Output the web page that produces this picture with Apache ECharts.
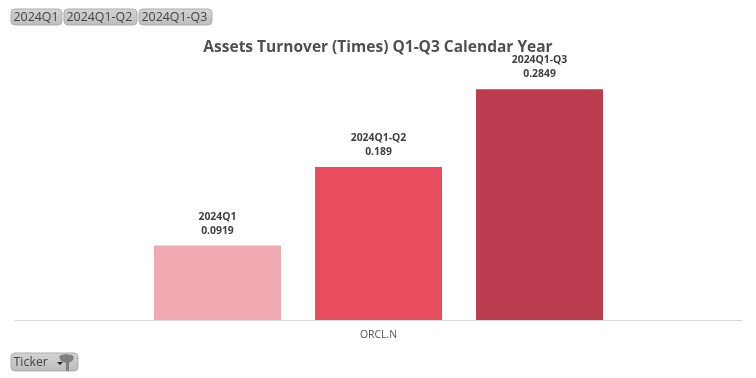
<!DOCTYPE html>
<html>
<head>
<meta charset="utf-8">
<style>
  html, body { margin: 0; padding: 0; background: #fff; }
  #chart { width: 756px; height: 378px; }
</style>
<script src="https://cdn.jsdelivr.net/npm/echarts@6/dist/echarts.min.js"></script>
</head>
<body>
<div id="chart"></div>
<script>
const tickers = ['ORCL.N'];
const periods = ['2024Q1', '2024Q1-Q2', '2024Q1-Q3'];
const turnover = [0.0919, 0.189, 0.2849];
const barColors = ['#f0a9b0', '#e84c5f', '#bc3c4f'];

const chart = echarts.init(document.getElementById('chart'));

const FONT = '"Open Sans", sans-serif';

// grey slicer button, drawn the same for the period row and the Ticker one
const slicerButton = (x, y, w, h, label) => ({
  type: 'group',
  x: x,
  y: y,
  children: [
    {
      type: 'rect',
      shape: { x: 0, y: 0, width: w, height: h, r: 4 },
      style: {
        fill: new echarts.graphic.LinearGradient(0, 0, 0, 1, [
          { offset: 0, color: '#d4d4d4' },
          { offset: 1, color: '#bcbcbc' }
        ]),
        stroke: '#adadad',
        lineWidth: 1
      }
    },
    {
      type: 'text',
      x: 2.5,
      y: h / 2,
      style: {
        text: label,
        font: '12.4px ' + FONT,
        fill: '#444',
        textVerticalAlign: 'middle'
      }
    }
  ]
});

const option = {
  animation: false,
  title: {
    text: 'Assets Turnover (Times) Q1-Q3 Calendar Year',
    left: 'center',
    top: 35,
    textStyle: {
      fontFamily: FONT,
      fontSize: 15.5,
      fontWeight: 'bold',
      color: '#505050'
    }
  },
  grid: { left: 15, right: 14, top: 77, height: 243 },
  xAxis: {
    type: 'category',
    data: tickers,
    axisTick: { show: false },
    axisLine: { lineStyle: { color: '#d9d9d9', width: 1 } },
    axisLabel: { fontFamily: FONT, fontSize: 10.4, color: '#555', margin: 10.5 }
  },
  yAxis: {
    type: 'value',
    min: 0,
    max: 0.3,
    show: false
  },
  series: periods.map((name, i) => ({
    name: name,
    type: 'bar',
    barWidth: 127,
    barGap: '26.8%',
    data: [turnover[i]],
    itemStyle: { color: barColors[i] },
    label: {
      show: true,
      position: 'top',
      distance: 8,
      formatter: p => p.seriesName + '\n' + p.value,
      fontFamily: FONT,
      fontSize: 10.4,
      fontWeight: 'bold',
      lineHeight: 14,
      color: '#404040'
    }
  })),
  graphic: [
    slicerButton(11, 9, 51, 16, periods[0]),
    slicerButton(64, 9, 73, 16, periods[1]),
    slicerButton(139, 9, 73, 16, periods[2]),
    slicerButton(11, 353, 67, 18, 'Ticker'),
    // dropdown arrow and funnel on the Ticker button
    {
      type: 'polygon',
      shape: { points: [[57, 362], [63, 362], [60, 365]] },
      style: { fill: '#222' }
    },
    {
      type: 'polygon',
      shape: {
        points: [[59, 357], [61, 355], [66, 354], [72, 355], [74, 357], [73, 360], [69, 363],
          [69, 371], [66, 371], [66, 363], [61, 361]]
      },
      style: { fill: '#808080' }
    }
  ]
};

chart.setOption(option);
</script>
</body>
</html>
